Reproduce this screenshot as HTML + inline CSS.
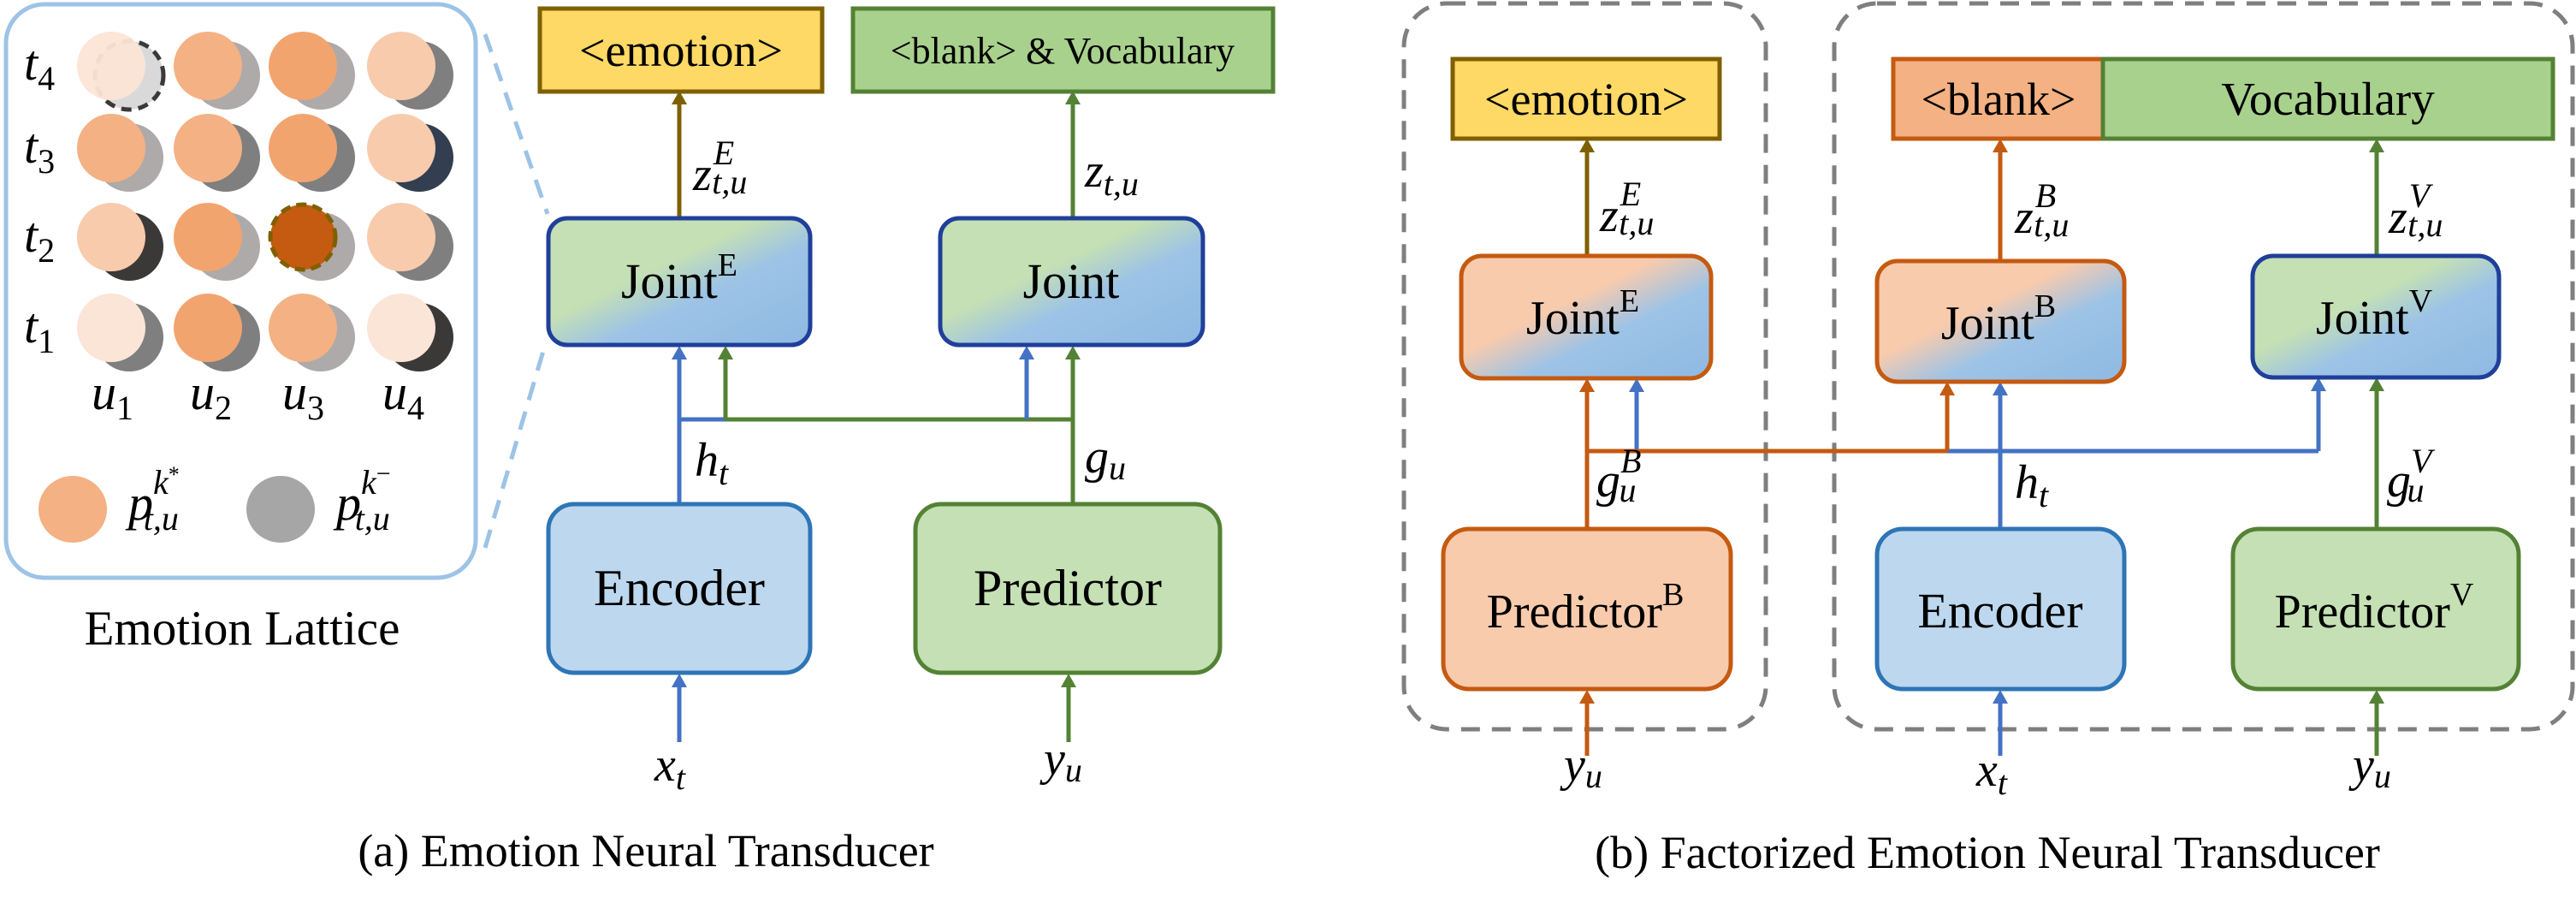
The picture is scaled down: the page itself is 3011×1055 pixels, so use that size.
<!DOCTYPE html>
<html><head><meta charset="utf-8"><style>
html,body{margin:0;padding:0;background:#fff;}
svg{display:block;}
text{font-family:"Liberation Serif",serif;fill:#000;}
.m{font-style:italic;}
</style></head><body>
<svg width="3011" height="1055" viewBox="0 0 3011 1055" xmlns="http://www.w3.org/2000/svg">
<defs>
<linearGradient id="gb" x1="0" y1="0" x2="1" y2="1">
<stop offset="0" stop-color="#c5e0b4"/><stop offset="0.4" stop-color="#c5e0b4"/><stop offset="0.6" stop-color="#9dc3e6"/><stop offset="1" stop-color="#8fb9e3"/></linearGradient>
<linearGradient id="ob" x1="0" y1="0" x2="1" y2="1">
<stop offset="0" stop-color="#f8cbad"/><stop offset="0.4" stop-color="#f8cbad"/><stop offset="0.62" stop-color="#9dc3e6"/><stop offset="1" stop-color="#8fb9e3"/></linearGradient>
<marker id="aBl" markerWidth="8" markerHeight="8" refX="4" refY="4" orient="auto" markerUnits="userSpaceOnUse" viewBox="0 0 8 8"><path d="M0,0 L8,4 L0,8z" fill="#4472c4"/></marker>
</defs>
<g id="arrows"></g>

<!-- LEFT: lattice -->
<rect x="7" y="5" width="549" height="670" rx="45" fill="#fff" stroke="#9dc3e6" stroke-width="5"/>
<line x1="567" y1="40" x2="640" y2="250" stroke="#9dc3e6" stroke-width="5" stroke-dasharray="22 14"/>
<line x1="567" y1="640" x2="638" y2="400" stroke="#9dc3e6" stroke-width="5" stroke-dasharray="22 14"/>

<g>
<!-- row t4 y=77 -->
<ellipse cx="151" cy="88" rx="40" ry="40" fill="#d9d9d9" stroke="#3b3838" stroke-width="5" stroke-dasharray="12 8"/>
<ellipse cx="130" cy="77" rx="40" ry="40" fill="#fbe5d6" opacity="0.95"/>
<ellipse cx="264" cy="88" rx="40" ry="40" fill="#aeaaaa"/><ellipse cx="243" cy="77" rx="40" ry="40" fill="#f4b183"/>
<ellipse cx="375" cy="88" rx="40" ry="40" fill="#aeaaaa"/><ellipse cx="354" cy="77" rx="40" ry="40" fill="#f2a46e"/>
<ellipse cx="490" cy="88" rx="40" ry="40" fill="#7f7f7f"/><ellipse cx="469" cy="77" rx="40" ry="40" fill="#f8cbad"/>
<!-- t3 y=173 -->
<ellipse cx="151" cy="184" rx="40" ry="40" fill="#aeaaaa"/><ellipse cx="130" cy="173" rx="40" ry="40" fill="#f4b183"/>
<ellipse cx="264" cy="184" rx="40" ry="40" fill="#7f7f7f"/><ellipse cx="243" cy="173" rx="40" ry="40" fill="#f4b183"/>
<ellipse cx="375" cy="184" rx="40" ry="40" fill="#7f7f7f"/><ellipse cx="354" cy="173" rx="40" ry="40" fill="#f2a46e"/>
<ellipse cx="490" cy="184" rx="40" ry="40" fill="#333f50"/><ellipse cx="469" cy="173" rx="40" ry="40" fill="#f8cbad"/>
<!-- t2 y=277 -->
<ellipse cx="151" cy="288" rx="40" ry="40" fill="#3b3838"/><ellipse cx="130" cy="277" rx="40" ry="40" fill="#f8cbad"/>
<ellipse cx="264" cy="288" rx="40" ry="40" fill="#aeaaaa"/><ellipse cx="243" cy="277" rx="40" ry="40" fill="#f2a46e"/>
<ellipse cx="375" cy="288" rx="40" ry="40" fill="#aeaaaa"/><ellipse cx="354" cy="277" rx="38" ry="38" fill="#c55a11" stroke="#7f6000" stroke-width="5" stroke-dasharray="12 7"/>
<ellipse cx="490" cy="288" rx="40" ry="40" fill="#7f7f7f"/><ellipse cx="469" cy="277" rx="40" ry="40" fill="#f8cbad"/>
<!-- t1 y=383 -->
<ellipse cx="151" cy="394" rx="40" ry="40" fill="#7f7f7f"/><ellipse cx="130" cy="383" rx="40" ry="40" fill="#fbe5d6"/>
<ellipse cx="264" cy="394" rx="40" ry="40" fill="#7f7f7f"/><ellipse cx="243" cy="383" rx="40" ry="40" fill="#f2a46e"/>
<ellipse cx="375" cy="394" rx="40" ry="40" fill="#aeaaaa"/><ellipse cx="354" cy="383" rx="40" ry="40" fill="#f4b183"/>
<ellipse cx="490" cy="394" rx="40" ry="40" fill="#3b3838"/><ellipse cx="469" cy="383" rx="40" ry="40" fill="#fbe5d6"/>
</g>
<g font-size="58" class="m">
<text x="28" y="93" class="m">t<tspan font-size="40" font-style="normal" dy="12">4</tspan></text>
<text x="28" y="190" class="m">t<tspan font-size="40" font-style="normal" dy="12">3</tspan></text>
<text x="28" y="294" class="m">t<tspan font-size="40" font-style="normal" dy="12">2</tspan></text>
<text x="28" y="400" class="m">t<tspan font-size="40" font-style="normal" dy="12">1</tspan></text>
<text x="107" y="478" class="m">u<tspan font-size="40" font-style="normal" dy="12">1</tspan></text>
<text x="222" y="478" class="m">u<tspan font-size="40" font-style="normal" dy="12">2</tspan></text>
<text x="330" y="478" class="m">u<tspan font-size="40" font-style="normal" dy="12">3</tspan></text>
<text x="447" y="478" class="m">u<tspan font-size="40" font-style="normal" dy="12">4</tspan></text>
</g>
<ellipse cx="85" cy="595" rx="40" ry="39" fill="#f4b183"/>
<ellipse cx="328" cy="595" rx="40" ry="39" fill="#a6a6a6"/>
<text x="150" y="607" font-size="58" class="m">p<tspan font-size="40" dx="0" dy="-30">k</tspan><tspan font-size="26" font-style="normal" dy="-14">*</tspan><tspan font-size="40" dx="-42" dy="56">t,u</tspan></text>
<text x="393" y="607" font-size="58" class="m">p<tspan font-size="40" dx="0" dy="-30">k</tspan><tspan font-size="30" font-style="normal" dy="-14">−</tspan><tspan font-size="40" dx="-42" dy="56">t,u</tspan></text>
<text x="283" y="753" font-size="57" text-anchor="middle">Emotion Lattice</text>

<!-- LEFT diagram (a) -->
<rect x="631" y="10" width="330" height="97" fill="#ffd966" stroke="#7f6000" stroke-width="5"/>
<text x="796" y="77" font-size="54" text-anchor="middle">&lt;emotion&gt;</text>
<rect x="997" y="10" width="491" height="97" fill="#a9d18e" stroke="#548235" stroke-width="5"/>
<text x="1242" y="74" font-size="44" text-anchor="middle">&lt;blank&gt; &amp; Vocabulary</text>

<!-- connectors (a) -->
<g fill="none" stroke-width="5">
<line x1="794" y1="255" x2="794" y2="118" stroke="#7f6000"/>
<line x1="1254" y1="255" x2="1254" y2="118" stroke="#548235"/>
<line x1="794" y1="589" x2="794" y2="414" stroke="#4472c4"/>
<line x1="794" y1="490" x2="848" y2="490" stroke="#4472c4"/>
<line x1="848" y1="490" x2="1254" y2="490" stroke="#548235"/>
<line x1="848" y1="490" x2="848" y2="414" stroke="#548235"/>
<line x1="1200" y1="490" x2="1200" y2="414" stroke="#4472c4"/>
<line x1="1254" y1="589" x2="1254" y2="414" stroke="#548235"/>
<line x1="794" y1="867" x2="794" y2="797" stroke="#4472c4"/>
<line x1="1249" y1="867" x2="1249" y2="797" stroke="#548235"/>
</g>
<g>
<path d="M794,106 l-9,16 h18z" fill="#7f6000"/>
<path d="M1254,106 l-9,16 h18z" fill="#548235"/>
<path d="M794,404 l-9,16 h18z" fill="#4472c4"/>
<path d="M848,404 l-9,16 h18z" fill="#548235"/>
<path d="M1200,404 l-9,16 h18z" fill="#4472c4"/>
<path d="M1254,404 l-9,16 h18z" fill="#548235"/>
<path d="M794,787 l-9,16 h18z" fill="#4472c4"/>
<path d="M1249,787 l-9,16 h18z" fill="#548235"/>
</g>
<rect x="641" y="255" width="306" height="148" rx="22" fill="url(#gb)" stroke="#203f9a" stroke-width="5"/>
<text x="794" y="348" font-size="58" text-anchor="middle">Joint<tspan font-size="38" dy="-26">E</tspan></text>
<rect x="1099" y="255" width="307" height="148" rx="22" fill="url(#gb)" stroke="#203f9a" stroke-width="5"/>
<text x="1252" y="348" font-size="58" text-anchor="middle">Joint</text>
<rect x="641" y="589" width="306" height="197" rx="30" fill="#bdd7ee" stroke="#2e75b6" stroke-width="5"/>
<text x="794" y="707" font-size="60" text-anchor="middle">Encoder</text>
<rect x="1070" y="589" width="356" height="197" rx="30" fill="#c5e0b4" stroke="#548235" stroke-width="5"/>
<text x="1248" y="707" font-size="60" text-anchor="middle">Predictor</text>

<g font-size="56" class="m">
<text x="810" y="222">z<tspan font-size="40" dx="2" dy="-30">E</tspan><tspan font-size="40" dx="-26" dy="34">t,u</tspan></text>
<text x="1268" y="218">z<tspan font-size="40" dy="10">t,u</tspan></text>
<text x="812" y="556">h<tspan font-size="40" dy="10">t</tspan></text>
<text x="1268" y="552">g<tspan font-size="40" dy="8">u</tspan></text>
<text x="765" y="912">x<tspan font-size="40" dy="10">t</tspan></text>
<text x="1220" y="905">y<tspan font-size="40" dy="8">u</tspan></text>
</g>
<text x="755" y="1012" font-size="54" text-anchor="middle">(a) Emotion Neural Transducer</text>

<!-- RIGHT diagram (b) -->
<rect x="1641" y="4" width="423" height="848" rx="50" fill="none" stroke="#7f7f7f" stroke-width="5" stroke-dasharray="22 14"/>
<rect x="2144" y="4" width="863" height="848" rx="50" fill="none" stroke="#7f7f7f" stroke-width="5" stroke-dasharray="22 14"/>

<rect x="1698" y="69" width="312" height="93" fill="#ffd966" stroke="#7f6000" stroke-width="5"/>
<text x="1854" y="134" font-size="54" text-anchor="middle">&lt;emotion&gt;</text>
<rect x="2213" y="69" width="245" height="93" fill="#f4b183" stroke="#c55a11" stroke-width="5"/>
<text x="2336" y="134" font-size="54" text-anchor="middle">&lt;blank&gt;</text>
<rect x="2458" y="69" width="526" height="93" fill="#a9d18e" stroke="#548235" stroke-width="5"/>
<text x="2721" y="134" font-size="55" text-anchor="middle">Vocabulary</text>

<g fill="none" stroke-width="5">
<line x1="1855" y1="299" x2="1855" y2="172" stroke="#7f6000"/>
<line x1="2338" y1="305" x2="2338" y2="172" stroke="#c55a11"/>
<line x1="2778" y1="299" x2="2778" y2="172" stroke="#548235"/>
<line x1="1913" y1="527" x2="2710" y2="527" stroke="#4472c4"/>
<line x1="2710" y1="527" x2="2710" y2="452" stroke="#4472c4"/>
<line x1="1913" y1="527" x2="1913" y2="452" stroke="#4472c4"/>
<line x1="1855" y1="527" x2="2276" y2="527" stroke="#c55a11"/>
<line x1="2276" y1="527" x2="2276" y2="456" stroke="#c55a11"/>
<line x1="1855" y1="618" x2="1855" y2="452" stroke="#c55a11"/>
<line x1="2338" y1="618" x2="2338" y2="456" stroke="#4472c4"/>
<line x1="2778" y1="618" x2="2778" y2="452" stroke="#548235"/>
<line x1="1855" y1="883" x2="1855" y2="816" stroke="#c55a11"/>
<line x1="2338" y1="883" x2="2338" y2="816" stroke="#4472c4"/>
<line x1="2778" y1="883" x2="2778" y2="816" stroke="#548235"/>
</g>
<g>
<path d="M1855,162 l-9,16 h18z" fill="#7f6000"/>
<path d="M2338,162 l-9,16 h18z" fill="#c55a11"/>
<path d="M2778,162 l-9,16 h18z" fill="#548235"/>
<path d="M1855,442 l-9,16 h18z" fill="#c55a11"/>
<path d="M1913,442 l-9,16 h18z" fill="#4472c4"/>
<path d="M2276,446 l-9,16 h18z" fill="#c55a11"/>
<path d="M2338,446 l-9,16 h18z" fill="#4472c4"/>
<path d="M2710,441 l-9,16 h18z" fill="#4472c4"/>
<path d="M2778,441 l-9,16 h18z" fill="#548235"/>
<path d="M1855,806 l-9,16 h18z" fill="#c55a11"/>
<path d="M2338,806 l-9,16 h18z" fill="#4472c4"/>
<path d="M2778,806 l-9,16 h18z" fill="#548235"/>
</g>
<rect x="1708" y="299" width="292" height="143" rx="24" fill="url(#ob)" stroke="#c55a11" stroke-width="5"/>
<text x="1850" y="390" font-size="56" text-anchor="middle">Joint<tspan font-size="38" dy="-26">E</tspan></text>
<rect x="2194" y="305" width="289" height="141" rx="24" fill="url(#ob)" stroke="#c55a11" stroke-width="5"/>
<text x="2336" y="396" font-size="56" text-anchor="middle">Joint<tspan font-size="38" dy="-26">B</tspan></text>
<rect x="2633" y="299" width="288" height="142" rx="24" fill="url(#gb)" stroke="#203f9a" stroke-width="5"/>
<text x="2775" y="390" font-size="56" text-anchor="middle">Joint<tspan font-size="38" dy="-26">V</tspan></text>
<rect x="1687" y="618" width="336" height="187" rx="30" fill="#f8cbad" stroke="#c55a11" stroke-width="5"/>
<text x="1853" y="733" font-size="56" text-anchor="middle">Predictor<tspan font-size="38" dy="-26">B</tspan></text>
<rect x="2194" y="618" width="289" height="187" rx="30" fill="#bdd7ee" stroke="#2e75b6" stroke-width="5"/>
<text x="2338" y="733" font-size="58" text-anchor="middle">Encoder</text>
<rect x="2610" y="618" width="334" height="187" rx="30" fill="#c5e0b4" stroke="#548235" stroke-width="5"/>
<text x="2775" y="733" font-size="56" text-anchor="middle">Predictor<tspan font-size="38" dy="-26">V</tspan></text>

<g font-size="56" class="m">
<text x="1870" y="270">z<tspan font-size="40" dx="2" dy="-30">E</tspan><tspan font-size="40" dx="-26" dy="34">t,u</tspan></text>
<text x="2355" y="272">z<tspan font-size="40" dx="2" dy="-30">B</tspan><tspan font-size="40" dx="-26" dy="34">t,u</tspan></text>
<text x="2792" y="272">z<tspan font-size="40" dx="2" dy="-30">V</tspan><tspan font-size="40" dx="-26" dy="34">t,u</tspan></text>
<text x="1866" y="580">g<tspan font-size="40" dx="0" dy="-28">B</tspan><tspan font-size="40" dx="-26" dy="34">u</tspan></text>
<text x="2355" y="582">h<tspan font-size="40" dy="10">t</tspan></text>
<text x="2790" y="580">g<tspan font-size="40" dx="0" dy="-28">V</tspan><tspan font-size="40" dx="-26" dy="34">u</tspan></text>
<text x="1828" y="912">y<tspan font-size="40" dy="8">u</tspan></text>
<text x="2310" y="918">x<tspan font-size="40" dy="10">t</tspan></text>
<text x="2750" y="912">y<tspan font-size="40" dy="8">u</tspan></text>
</g>
<text x="2323" y="1014" font-size="54" text-anchor="middle">(b) Factorized Emotion Neural Transducer</text>
</svg>
</body></html>
